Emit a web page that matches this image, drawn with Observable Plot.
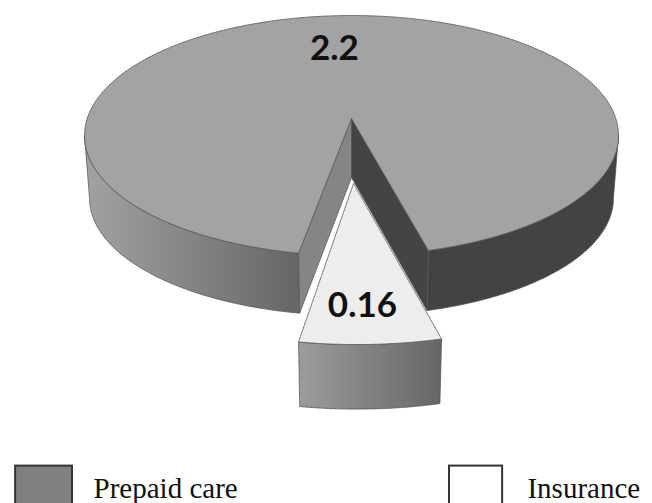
<!DOCTYPE html>
<html>
<head>
<meta charset="utf-8">
<style>html,body{margin:0;padding:0;background:#fff;overflow:hidden}svg{display:block}</style>
<script src="https://cdn.jsdelivr.net/npm/d3@7"></script>
<script src="https://cdn.jsdelivr.net/npm/@observablehq/plot@0.6"></script>
</head>
<body>
<div id="chart"></div>
<script>
const categories = ["Prepaid care", "Insurance"];
const values = [2.2, 0.16];
const valueLabels = ["2.2", "0.16"];

// 3D projection of the unit pie: radius 1 in chart units, seen from above.
const perspective = 1.154, gapCentre = 2.66;
const top_ = {cx: 0, cy: 0, rx: 1, ry: 1};
const base = {cx: 0, cy: 0.525, rx: 0.981, ry: 0.975};
const apex = {x: 0, y: -0.142};
const innerFoot = {x: 0, y: 0.35};
const sliceTop = {cx: 0.02, cy: 0.642, rx: 1.102, ry: 1.1};
const sliceBase = {cx: 0.02, cy: 1.2, rx: 1.08, ry: 1.08};
const sliceApex = {x: 0.0075, y: 0.4};

const share = values[1] / d3.sum(values);
const sweep = 360 * share * perspective;
const a0 = gapCentre - sweep / 2, a1 = gapCentre + sweep / 2;

const at = (e, deg) => {
  const t = deg * Math.PI / 180;
  return {x: e.cx + e.rx * Math.sin(t), y: e.cy + e.ry * Math.cos(t)};
};
const arc = (e, from, to) => {
  const n = Math.ceil(Math.abs(to - from));
  return d3.range(n + 1).map(i => at(e, from + (to - from) * i / n));
};

const edge = {stroke: "#555", strokeWidth: 0.8, strokeDasharray: "3 1"};
const poly = (points, fill, extra = {}) =>
  Plot.line(points, {x: "x", y: "y", curve: "linear-closed", fill, ...edge, ...extra});

const gradient = (id, stops) => () => {
  const defs = d3.create("svg:defs");
  const g = defs.append("linearGradient").attr("id", id);
  stops.forEach(([o, c]) => g.append("stop").attr("offset", o).attr("stop-color", c));
  return defs.node();
};

const legend = categories.map((name, i) => ({name, i}));
const swatchX = [[-1.258, -1.045], [0.367, 0.566]];
const textX = [-0.966, 0.659];
const swatchFill = ["#808080", "#ffffff"];
const labelPos = [{x: -0.064, y: -0.72}, {x: 0.041, y: 1.415}];

const chart = Plot.plot({
  width: 652, height: 503,
  marginTop: 0, marginRight: 0, marginBottom: 0, marginLeft: 0,
  x: {domain: [-1, 1], range: [84, 618], axis: null},
  y: {domain: [-1, 1], range: [15, 255], axis: null},
  style: {background: "#fff"},
  marks: [
    gradient("sideLeft", [[0, "#a2a2a2"], [1, "#666666"]]),
    gradient("sideSlice", [[0, "#9c9c9c"], [1, "#666666"]]),
    // outer wall
    poly([...arc(top_, -90, a0), ...arc(base, a0, -90)], "url(#sideLeft)"),
    poly([...arc(top_, a1, 90), ...arc(base, 90, a1)], "#434343"),
    // walls of the cut
    poly([apex, innerFoot, at(base, a0), at(top_, a0)], "#858585"),
    poly([apex, innerFoot, at(base, a1), at(top_, a1)], "#444444"),
    // top face
    poly([apex, ...arc(top_, a1, 360 + a0)], "#a3a3a3"),
    // exploded slice
    poly([...arc(sliceTop, a0, a1), ...arc(sliceBase, a1, a0)], "url(#sideSlice)"),
    poly([sliceApex, ...arc(sliceTop, a1, a0)], "#ededed"),
    // value labels
    Plot.text(valueLabels, {
      x: (d, i) => labelPos[i].x, y: (d, i) => labelPos[i].y, text: d => d,
      fontFamily: "Lato", fontWeight: "bold", fontSize: 35, fill: "#111"
    }),
    // legend
    Plot.rect(legend, {
      x1: d => swatchX[d.i][0], x2: d => swatchX[d.i][1], y1: 2.755, y2: 3.2,
      fill: d => swatchFill[d.i], stroke: "#333", strokeWidth: 2
    }),
    Plot.text(legend, {
      x: d => textX[d.i], y: 2.94, text: "name", textAnchor: "start",
      fontFamily: "Liberation Serif", fontSize: 29, fill: "#111"
    })
  ]
});
document.getElementById("chart").append(chart);
</script>
</body>
</html>
